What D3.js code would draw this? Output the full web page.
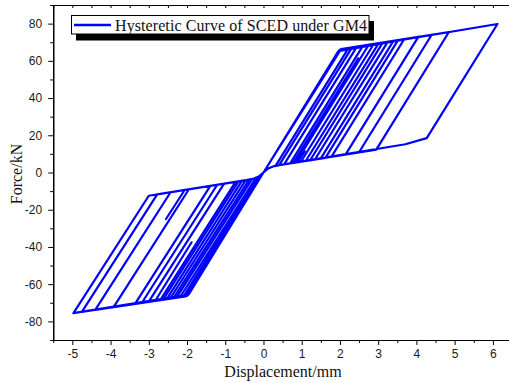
<!DOCTYPE html>
<html>
<head>
<meta charset="utf-8">
<script src="https://cdn.jsdelivr.net/npm/d3@7"></script>
<style>
  html, body { margin: 0; padding: 0; background: #fff; }
  svg { display: block; }
</style>
</head>
<body>
<svg id="chart" width="509" height="383"></svg>
<script>
// ---------- data ----------
const legendLabel = "Hysteretic Curve of SCED under GM4";
const xTitle = "Displacement/mm";
const yTitle = "Force/kN";
const xTicks = [-5, -4, -3, -2, -1, 0, 1, 2, 3, 4, 5, 6];
const yTicks = [-80, -60, -40, -20, 0, 20, 40, 60, 80];

// hysteresis path vertices: displacement (mm) and force (kN), one line per half-cycle
const displacement = [
  0,
  1.96, 2.22, 0.32, 0.25, 0.12, 0,
  -1.96, -2.27, -0.30, -0.25, -0.12, 0,
  2.00, 2.44, 0.54, 0.45, 0.25, 0.12, 0,
  -2.00, -2.53, -0.56, -0.45, -0.25, -0.12, 0,
  2.03, 2.31, 0.41, 0.25, 0.12, 0,
  -2.04, -2.44, -0.47, -0.25, -0.12, 0,
  1.98, 2.60, 0.70, 0.45, 0.25, 0.12, 0,
  -1.98, -2.62, -0.65, -0.45, -0.25, -0.12, 0,
  1.96, 2.75, 0.85, 0.78, 2.48, 0.78, 0.45, 0.25, 0.12, 0,
  -2.00, -2.70, -0.73, -0.45, -0.25, -0.12, 0,
  2.00, 3.01, 1.11, 0.45, 0.25, 0.12, 0,
  -2.04, -2.83, -1.88, -2.83, -3.00, -1.03, -0.45, -0.25, -0.12, 0,
  2.03, 2.88, 0.98, 0.90, 1.08, 0.90, 0.45, 0.25, 0.12, 0,
  -1.98, -3.18, -1.21, -0.45, -0.25, -0.12, 0,
  1.98, 3.25, 1.35, 0.45, 0.25, 0.12, 0,
  -1.96, -3.36, -1.39, -0.45, -0.25, -0.12, 0,
  1.96, 3.12, 1.22, 0.45, 0.25, 0.12, 0,
  -2.00, -3.92, -1.95, -0.45, -0.25, -0.12, 0,
  2.00, 3.40, 1.50, 0.45, 0.25, 0.12, 0,
  -2.04, -4.40, -2.43, -2.06, -2.55, -2.06, -0.45, -0.25, -0.12, 0,
  2.03, 4.05, 2.15, 0.45, 0.25, 0.12, 0,
  -1.98, -4.75, -2.78, -0.45, -0.25, -0.12, 0,
  1.98, 3.52, 1.62, 0.45, 0.25, 0.12, 0,
  -1.96, -4.97, -3.00, -0.45, -0.25, -0.12, 0,
  1.96, 4.40, 2.50, 0.45, 0.25, 0.12, 0,
  -2.00, -2.18, -0.21, -0.12, 0,
  2.00, 3.68, 1.78, 0.45, 0.25, 0.12, 0,
  -2.04, -2.09, -0.14, 0,
  2.03, 4.85, 2.95, 0.45, 0.25, 0.12, 0,
  -1.98, -2.35, -0.38, -0.25, -0.12, 0,
  1.98, 6.12, 4.27, 3.71, 0.45, 0.25, 0.12, 0
];
const force = [
  0,
  65.2, 66.7, 3.7, 3.2, 2.1, 0,
  -65.6, -67.1, -3.6, -3.2, -2.1, 0,
  66.0, 67.5, 4.4, 4.1, 3.2, 2.1, 0,
  -66.3, -68.0, -4.4, -4.1, -3.2, -2.1, 0,
  66.3, 67.0, 4.0, 3.2, 2.1, 0,
  -66.6, -67.7, -4.2, -3.2, -2.1, 0,
  65.6, 68.0, 4.9, 4.1, 3.2, 2.1, 0,
  -65.9, -68.2, -4.7, -4.1, -3.2, -2.1, 0,
  65.2, 68.5, 5.4, 5.2, 61.3, 5.2, 4.1, 3.2, 2.1, 0,
  -66.3, -68.5, -5.0, -4.1, -3.2, -2.1, 0,
  66.0, 69.4, 6.3, 4.1, 3.2, 2.1, 0,
  -66.6, -68.9, -37.5, -68.9, -69.4, -6.0, -4.1, -3.2, -2.1, 0,
  66.3, 68.9, 5.8, 5.6, 11.5, 5.6, 4.1, 3.2, 2.1, 0,
  -65.9, -70.0, -6.6, -4.1, -3.2, -2.1, 0,
  65.6, 70.2, 7.1, 4.1, 3.2, 2.1, 0,
  -65.6, -70.6, -7.2, -4.1, -3.2, -2.1, 0,
  65.2, 69.8, 6.6, 4.1, 3.2, 2.1, 0,
  -66.3, -72.3, -9.0, -4.1, -3.2, -2.1, 0,
  66.0, 70.7, 7.6, 4.1, 3.2, 2.1, 0,
  -66.6, -73.8, -10.6, -9.4, -25.0, -9.4, -4.1, -3.2, -2.1, 0,
  66.3, 72.9, 9.7, 4.1, 3.2, 2.1, 0,
  -65.9, -74.9, -11.8, -4.1, -3.2, -2.1, 0,
  65.6, 71.1, 7.9, 4.1, 3.2, 2.1, 0,
  -65.6, -75.6, -12.5, -4.1, -3.2, -2.1, 0,
  65.2, 74.0, 10.9, 4.1, 3.2, 2.1, 0,
  -66.3, -66.9, -3.3, -2.1, 0,
  66.0, 71.6, 8.5, 4.1, 3.2, 2.1, 0,
  -66.6, -66.6, -2.5, 0,
  66.3, 75.5, 12.3, 4.1, 3.2, 2.1, 0,
  -65.9, -67.4, -3.9, -3.2, -2.1, 0,
  65.6, 79.8, 18.5, 15.2, 4.1, 3.2, 2.1, 0
];

// ---------- drawing ----------
const svg = d3.select("#chart");
const padL = 53.2, padR = 512, padT = 5, padB = 340;

const x = d3.scaleLinear().domain([-5.5, 6.5]).range([padL, padR]);
const y = d3.scaleLinear().domain([-90, 90]).range([padB, padT]);

const tickFont = "'Liberation Sans', Arial, sans-serif";
const serif = "'Liberation Serif', 'Times New Roman', serif";

const xMinor = d3.range(-5.5, 6.51, 0.5).filter(v => Math.abs(v - Math.round(v)) > 0.01);
const yMinor = d3.range(-90, 91, 20);

// curve
const pts = displacement.map((d, i) => [d, force[i]]);
svg.append("path")
  .attr("d", d3.line().x(d => x(d[0])).y(d => y(d[1]))(pts))
  .attr("fill", "none")
  .attr("stroke", "#0000ff")
  .attr("stroke-width", 2.2)
  .attr("stroke-linejoin", "round")
  .attr("stroke-linecap", "round");

// bottom axis
svg.append("g").attr("transform", `translate(0,${padB})`)
  .call(d3.axisBottom(x).tickValues(xTicks).tickFormat(d => String(d)).tickSize(5).tickSizeOuter(0).tickPadding(4));
svg.append("g").attr("transform", `translate(0,${padB})`)
  .call(d3.axisBottom(x).tickValues(xMinor).tickFormat("").tickSize(3).tickSizeOuter(0));

// left axis
svg.append("g").attr("transform", `translate(${padL},0)`)
  .call(d3.axisLeft(y).tickValues(yTicks).tickFormat(d => String(d)).tickSize(5).tickSizeOuter(0).tickPadding(6));
svg.append("g").attr("transform", `translate(${padL},0)`)
  .call(d3.axisLeft(y).tickValues(yMinor).tickFormat("").tickSize(3).tickSizeOuter(0));

// top axis (ticks inward)
svg.append("g").attr("transform", `translate(0,${padT})`)
  .call(d3.axisBottom(x).tickValues(d3.range(-5.5, 6.51, 0.5)).tickFormat("").tickSize(3).tickSizeOuter(0));

svg.selectAll(".domain").attr("stroke", "#000").attr("stroke-width", 1.2);
svg.selectAll(".tick line").attr("stroke", "#000").attr("stroke-width", 1);
svg.selectAll(".tick text").attr("font-family", tickFont).attr("font-size", "12px").attr("fill", "#1a1a1a");

// axis titles
svg.append("text")
  .attr("x", 283).attr("y", 377)
  .attr("text-anchor", "middle")
  .attr("font-family", serif).attr("font-size", "16px").attr("fill", "#111")
  .text(xTitle);
svg.append("text")
  .attr("transform", "translate(22,174) rotate(-90)")
  .attr("text-anchor", "middle")
  .attr("font-family", serif).attr("font-size", "16px").attr("fill", "#111")
  .text(yTitle);

// legend
const lg = svg.append("g");
lg.append("rect").attr("x", 76).attr("y", 21).attr("width", 298).attr("height", 19.5).attr("fill", "#000");
lg.append("rect").attr("x", 71.5).attr("y", 15.5).attr("width", 297.5).attr("height", 18.5)
  .attr("fill", "#fff").attr("stroke", "#000").attr("stroke-width", 1);
lg.append("line").attr("x1", 74).attr("x2", 111).attr("y1", 25).attr("y2", 25)
  .attr("stroke", "#0000ff").attr("stroke-width", 2.5);
lg.append("text").attr("x", 115).attr("y", 30.5)
  .attr("font-family", serif).attr("font-size", "16px").attr("fill", "#111")
  .attr("textLength", 252).attr("lengthAdjust", "spacing")
  .text(legendLabel);
</script>
</body>
</html>
